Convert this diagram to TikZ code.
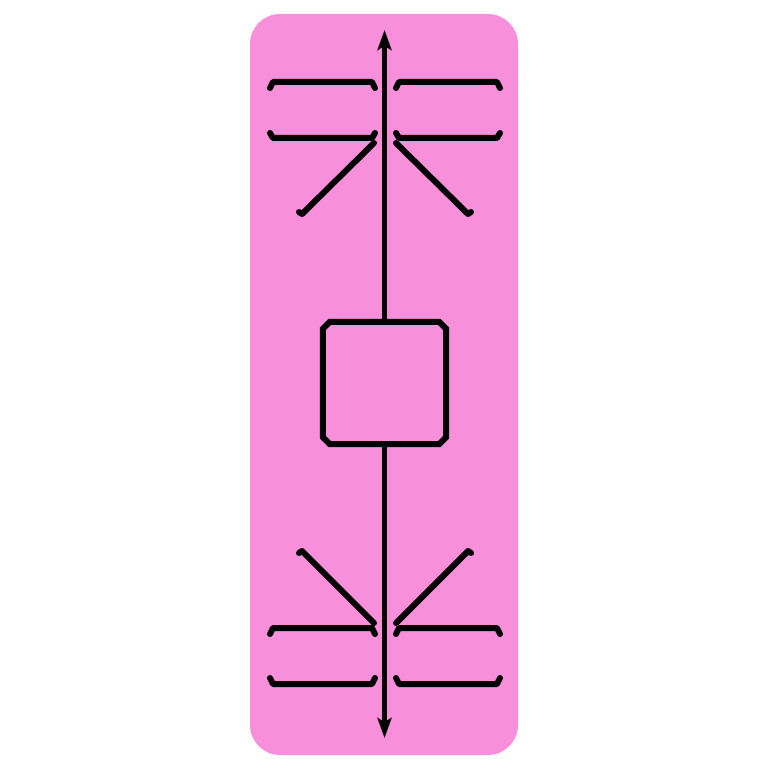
\documentclass[tikz,border=0pt]{standalone}
\usetikzlibrary{arrows.meta,calc}
\definecolor{bgpink}{RGB}{247,143,218}
\begin{document}
\begin{tikzpicture}[x=1pt,y=-1pt,
  stroke/.style={line width=6pt,line cap=round,line join=round,black},
  axis/.style={line width=5pt,black,-{Stealth[length=20pt,width=14pt,inset=4pt]}},
  boxnode/.style={draw=none,rectangle,minimum width=123pt,minimum height=122pt,inner sep=0pt},
  boxline/.style={line width=6pt,line join=miter,black}]
\useasboundingbox (0,0) rectangle (770,770);
\fill[bgpink,rounded corners=30pt] (250,14) rectangle (518,755);
\node[boxnode] (sq) at (384.5,383) {};
\draw[boxline] ($(sq.north west)+(7,0)$) -- ($(sq.north east)+(-7,0)$) -- ($(sq.north east)+(0,7)$)
  -- ($(sq.south east)+(0,-7)$) -- ($(sq.south east)+(-7,0)$) -- ($(sq.south west)+(7,0)$)
  -- ($(sq.south west)+(0,-7)$) -- ($(sq.north west)+(0,7)$) -- cycle;
\coordinate (top) at (384.5,30);
\coordinate (bot) at (384.5,738);
\draw[axis] (sq.north) -- (top);
\draw[axis] (sq.south) -- (bot);
% top group
\draw[stroke] (270,88) -- (273,82) -- (372,82) -- (375,88);
\draw[stroke] (396,88) -- (399,82) -- (497,82) -- (500,88);
\draw[stroke] (270,133) -- (273,138) -- (372,138) -- (375,133);
\draw[stroke] (396,133) -- (399,138) -- (497,138) -- (500,133);
\draw[stroke] (374,143) -- (302,214) -- (299,212);
\draw[stroke] (396,143) -- (468,214) -- (471,212);
% bottom group
\draw[stroke] (299,553) -- (302,551) -- (374,623);
\draw[stroke] (471,553) -- (468,551) -- (396,623);
\draw[stroke] (270,634) -- (273,628) -- (372,628) -- (375,634);
\draw[stroke] (396,634) -- (399,628) -- (497,628) -- (500,634);
\draw[stroke] (270,678) -- (273,684) -- (372,684) -- (375,678);
\draw[stroke] (396,678) -- (399,684) -- (497,684) -- (500,678);
\end{tikzpicture}
\end{document}
